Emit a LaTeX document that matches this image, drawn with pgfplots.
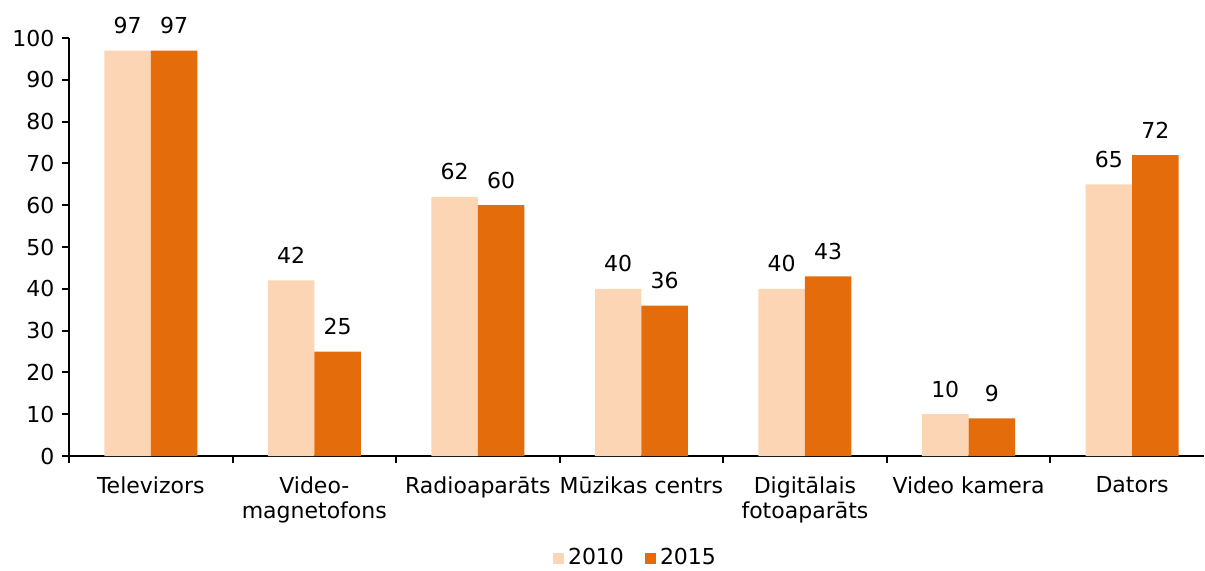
\documentclass[border=0pt]{standalone}
\usepackage{fontspec}
\setmainfont{DejaVu Sans}
\usepackage{pgfplots}
\pgfplotsset{compat=1.18}
\definecolor{c2010}{HTML}{FCD5B5}
\definecolor{c2015}{HTML}{E46C0A}
\newcommand{\cf}{\fontsize{11}{12.5}\selectfont}
\begin{document}
\cf
\begin{tikzpicture}
\begin{axis}[
  at={(0,0)}, anchor=south west,
  scale only axis, width=567.5pt, height=209pt,
  xmin=-0.5, xmax=6.44, ymin=0, ymax=100,
  enlargelimits=false,
  axis lines=left, axis line style={-, line width=1pt},
  ytick={0,10,...,100},
  tick align=outside, major tick length=3.5pt, minor tick length=3.5pt,
  tick style={line width=1pt, black},
  xtick={0,...,6},
  xticklabels={Televizors,{Video-\\magnetofons},Radioaparāts,Mūzikas centrs,{Digitālais\\fotoaparāts},Video kamera,Dators},
  major x tick style={draw=none},
  minor xtick={-0.5,0.5,...,5.5},
  xticklabel style={align=center, font=\cf, yshift=-3pt},
  yticklabel style={font=\cf},
  /pgf/number format/assume math mode=true,
  ybar=0pt, bar width=23.25pt,
  nodes near coords,
  every node near coord/.append style={font=\cf, anchor=south, yshift=4.5pt, black},
  legend style={at={(0.50,-0.244)}, anchor=center, draw=none, legend columns=2,
    font=\cf,
    /tikz/every even column/.append style={column sep=8.5pt}},
  legend image code/.code={\fill[#1] (-1pt,-2.75pt) rectangle (4.5pt,2.75pt);},
]
\addplot[fill=c2010, draw=none] coordinates {(0,97) (1,42) (2,62) (3,40) (4,40) (5,10) (6,65)};
\addplot[fill=c2015, draw=none] coordinates {(0,97) (1,25) (2,60) (3,36) (4,43) (5,9) (6,72)};
\legend{2010,2015}
\end{axis}
\pgfresetboundingbox
\path (-34.5pt,-57pt) rectangle (568pt,228pt);
\end{tikzpicture}
\end{document}
